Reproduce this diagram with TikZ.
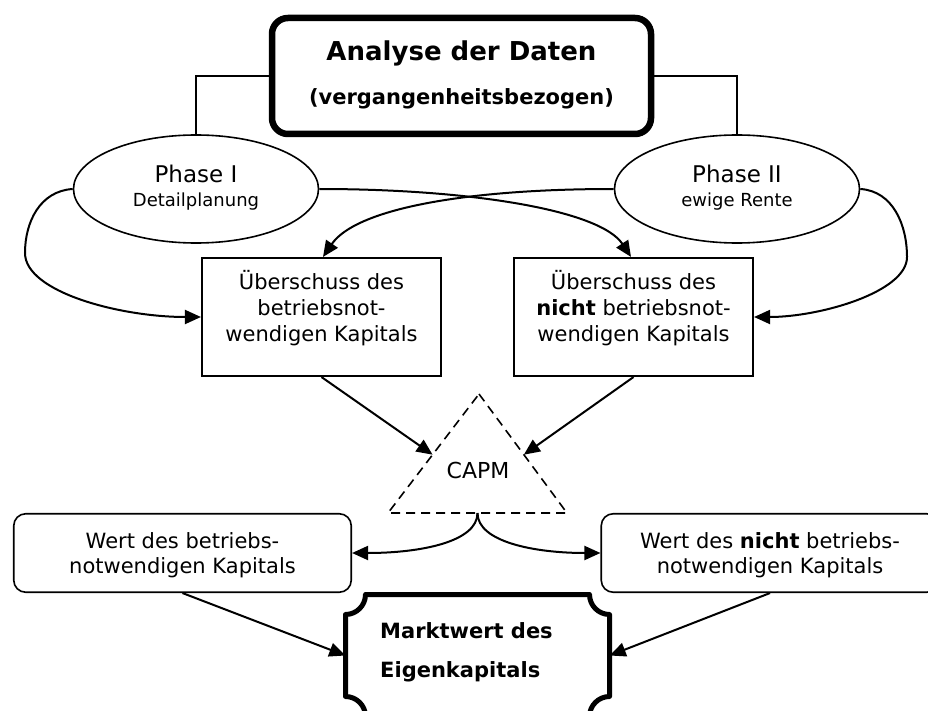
\documentclass[tikz,border=0pt]{standalone}
\usepackage{fontspec}
\setmainfont{DejaVu Sans}
\usetikzlibrary{arrows.meta,calc,shapes.geometric}
\begin{document}
\begin{tikzpicture}[x=1pt,y=-1pt,
  box/.style={draw,line width=1.6pt,inner sep=0pt},
  rbox/.style={box,rounded corners=12pt},
  ell/.style={draw,ellipse,line width=1.6pt,inner sep=0pt,minimum width=245pt,minimum height=108pt},
  arr/.style={line width=2pt,-{Triangle[length=16pt,width=14pt]}},
  thin/.style={line width=1.1pt},
  txt/.style={anchor=base,inner sep=0pt,font=\fontsize{21}{25}\selectfont},
  big/.style={anchor=base,inner sep=0pt,font=\fontsize{23}{27}\selectfont},
  small/.style={anchor=base,inner sep=0pt,font=\fontsize{18}{22}\selectfont},
  btxt/.style={anchor=base west,inner sep=0pt,font=\fontsize{21}{25}\selectfont\bfseries}
]
\useasboundingbox (0,0) rectangle (928,711);
\fill[white] (0,0) rectangle (928,711);

% title
\node[draw,line width=6.5pt,rounded corners=16pt,minimum width=379pt,minimum height=116pt,inner sep=0pt] (title) at (461.5,76) {};
\node[anchor=base,inner sep=0pt,font=\fontsize{26}{30}\selectfont\bfseries] (t1) at (461.5,61) {Analyse der Daten};
\node[anchor=base,inner sep=0pt,font=\fontsize{21}{25}\selectfont\bfseries] (t2) at (461.5,105) {(vergangenheitsbezogen)};

% phases
\node[ell] (ph1) at (196,189) {};
\node[big] (ph1a) at (196,183) {Phase I};
\node[small] (ph1b) at (196,207) {Detailplanung};
\node[ell] (ph2) at (737,189) {};
\node[big] (ph2a) at (737,183) {Phase II};
\node[small] (ph2b) at (737,207) {ewige Rente};

\draw[thin] (title.west) -| (ph1.north);
\draw[thin] (title.east) -| (ph2.north);

% surplus boxes
\node[box,minimum width=239.5pt,minimum height=118.5pt] (b1) at (321.5,317) {};
\node[txt] (b1a) at (321.5,289) {Überschuss des};
\node[txt] (b1b) at (321.5,315) {betriebsnot-};
\node[txt] (b1c) at (321.5,341) {wendigen Kapitals};
\node[box,minimum width=239.5pt,minimum height=118.5pt] (b2) at (633.5,317) {};
\node[txt] (b2a) at (633.5,289) {Überschuss des};
\node[txt] (b2b) at (633.5,315) {\textbf{nicht} betriebsnot-};
\node[txt] (b2c) at (633.5,341) {wendigen Kapitals};

% loops and crossing arrows
\draw[arr] (ph1.west) .. controls (40,191) and (25,222) .. (25,253) .. controls (25,292) and (120,317) .. (b1.west);
\draw[arr] (ph2.east) .. controls (893,191) and (907,225) .. (907,257) .. controls (907,292) and (820,317) .. (b2.east);
\draw[arr] (ph1.east) .. controls (470,189) and (600,210) .. ([xshift=-2.5pt]b2.north);
\draw[arr] (ph2.west) .. controls (460,189) and (355,210) .. ([xshift=1.5pt]b1.north);

% CAPM triangle
\coordinate (ta) at (479,394);
\coordinate (tr) at (567,513);
\coordinate (tl) at (388,513);
\coordinate (tbm) at ($(tl)!0.5!(tr)$);
\draw[line width=1.6pt,dash pattern=on 9pt off 6pt] (ta) -- (tr) -- (tl) -- cycle;
\node[txt,font=\fontsize{22}{26}\selectfont] (capm) at (478,478) {CAPM};
\draw[arr] (b1.south) -- ($(tl)!0.49!(ta)$);
\draw[arr] (b2.south) -- ($(tr)!0.49!(ta)$);

% value boxes
\node[rbox,minimum width=337.5pt,minimum height=78.5pt] (w1) at (182.5,553) {};
\node[txt] (w1a) at (182.5,548) {Wert des betriebs-};
\node[txt] (w1b) at (182.5,573) {notwendigen Kapitals};
\node[rbox,minimum width=337.5pt,minimum height=78.5pt] (w2) at (770,553) {};
\node[txt] (w2a) at (770,548) {Wert des \textbf{nicht} betriebs-};
\node[txt] (w2b) at (770,573) {notwendigen Kapitals};

\draw[arr] (tbm) .. controls (477.5,542) and (420,553) .. (w1.east);
\draw[arr] (tbm) .. controls (477.5,542) and (535,553) .. (w2.west);

% market value
\node[inner sep=0pt,minimum width=264pt,minimum height=122pt] (mw) at (477.5,655.5) {};
\draw[line width=5pt,line join=round]
  (365.5,594.5) -- (589.5,594.5)
  .. controls (589.5,605.5) and (598.5,614.5) .. (609.5,614.5)
  -- (609.5,696.5)
  .. controls (598.5,696.5) and (589.5,705.5) .. (589.5,716.5)
  -- (365.5,716.5)
  .. controls (365.5,705.5) and (356.5,696.5) .. (345.5,696.5)
  -- (345.5,614.5)
  .. controls (356.5,614.5) and (365.5,605.5) .. (365.5,594.5) -- cycle;
\node[btxt] (mwa) at (380,638) {Marktwert des};
\node[btxt] (mwb) at (380,677) {Eigenkapitals};

\draw[arr] (w1.south) -- (mw.west);
\draw[arr] (w2.south) -- (mw.east);
\end{tikzpicture}
\end{document}
